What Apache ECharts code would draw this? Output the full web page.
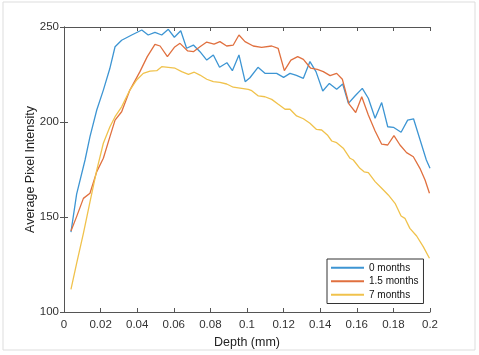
<!DOCTYPE html>
<html><head><meta charset="utf-8">
<script src="https://cdn.jsdelivr.net/npm/echarts@6/dist/echarts.min.js"></script>
<style>html,body{margin:0;padding:0;background:#fff}#c{width:479px;height:355px}</style>
</head><body><div id="c"></div>
<script>
const seriesNames = ['0 months', '1.5 months', '7 months'];
const xTicks = [0, 0.02, 0.04, 0.06, 0.08, 0.1, 0.12, 0.14, 0.16, 0.18, 0.2];
const yTicks = [100, 150, 200, 250];

const depth0 = [0.0038,0.0069,0.0115,0.0142,0.0179,0.0215,0.025,0.0279,0.0315,0.037,0.0425,0.046,0.0497,0.0534,0.057,0.0603,0.0638,0.067,0.0707,0.0743,0.078,0.0816,0.085,0.089,0.092,0.0956,0.099,0.1016,0.106,0.1098,0.1162,0.12,0.1235,0.127,0.1308,0.1344,0.1377,0.1414,0.145,0.149,0.1523,0.1554,0.159,0.163,0.1663,0.17,0.1736,0.1769,0.18,0.1842,0.1878,0.191,0.198,0.2];
const months0 = [142,162,180,192.3,206.3,216.8,228,239.6,243,245.8,248.4,245.8,247.2,245.8,248.8,244.6,248,238.8,240.5,237,232.6,235.3,228.8,231.2,227,235.3,221.2,223.3,228.8,225.6,225.6,223.5,225.6,224.5,223,231.8,226.5,216.3,220.3,217.2,220,209.8,213.7,217.7,212.5,202,210.2,197.5,197.2,194.6,201,201.7,180,175.6];

const depth15 = [0.0038,0.0069,0.0106,0.0142,0.0179,0.0215,0.0251,0.0279,0.0315,0.036,0.0415,0.0455,0.0497,0.0525,0.0565,0.0603,0.0634,0.0676,0.0707,0.0743,0.078,0.082,0.0852,0.0889,0.0925,0.0956,0.0989,0.1034,0.108,0.1135,0.117,0.1204,0.124,0.1277,0.1308,0.1348,0.1384,0.1417,0.1454,0.149,0.1521,0.1557,0.1594,0.1627,0.1663,0.17,0.1736,0.1769,0.1803,0.1836,0.1872,0.1909,0.1945,0.1973,0.1997];
const months15 = [142.6,150.2,159.8,162.5,173.9,180.9,192.3,201,205.4,216.8,226.5,234.4,240.9,240,234.4,239.3,241.4,237.4,237,239.6,242.1,241,242.3,240,240.5,245.8,242.3,240,239.3,240,238.8,227,232.6,234.4,233,228.3,227.7,226.5,224.4,225.6,222.5,209.5,205,213.3,203.7,195.3,188.3,187.9,192.8,187.9,183.9,181.7,175.6,169.5,162.5];

const depth7 = [0.0038,0.0069,0.0106,0.0142,0.0179,0.0215,0.0251,0.0279,0.0315,0.036,0.0397,0.0433,0.047,0.0507,0.0534,0.057,0.0607,0.0643,0.068,0.0712,0.0743,0.078,0.0816,0.0852,0.0889,0.0925,0.0971,0.1007,0.1026,0.1062,0.1098,0.1135,0.1171,0.1208,0.1235,0.1271,0.1308,0.1344,0.138,0.1408,0.1439,0.1463,0.149,0.1526,0.1563,0.1581,0.1617,0.164,0.1663,0.17,0.1736,0.1772,0.1809,0.1842,0.1863,0.189,0.1927,0.1963,0.1997];
const months7 = [111.9,125.6,141.4,158,174.7,188.8,197.5,202.8,208,216.8,222.1,225.6,226.8,227,229.1,228.8,228.3,226.5,225.1,226.2,224.7,222.5,221.2,220.9,220,218.3,217.7,217.2,216.5,213.7,213.3,211.9,209.3,206.7,206.7,203.2,201.7,199.3,196.1,195.8,193.2,190,189.1,186.2,180.9,180,175.6,173.8,173.3,168.6,165.1,161.6,157.2,150.5,149.3,144,140,134.4,128.3];

const colors = ['#3d95d3', '#e0703f', '#f0c24c'];
const pairs = (xs, ys) => xs.map((x, i) => [x, ys[i]]);
const allX = [depth0, depth15, depth7];
const allY = [months0, months15, months7];

const axisColor = '#555';
const font = 'Liberation Sans, Arial, sans-serif';
const chart = echarts.init(document.getElementById('c'));
chart.setOption({
  animation: false,
  backgroundColor: '#fff',
  grid: {left: 64, right: 49, top: 27, bottom: 43},
  xAxis: [{
    type: 'value', min: 0, max: 0.2, interval: 0.02,
    axisLine: {show: true, lineStyle: {color: axisColor, width: 1}},
    axisTick: {show: true, inside: true, length: 4, lineStyle: {color: axisColor}},
    splitLine: {show: false},
    axisLabel: {color: '#333', fontSize: 11.5, fontFamily: font, margin: 7,
      formatter: v => String(Math.round(v * 100) / 100)},
    name: 'Depth (mm)', nameLocation: 'middle', nameGap: 24,
    nameTextStyle: {color: '#222', fontSize: 12.5, fontFamily: font}
  }, {
    type: 'value', position: 'top', min: 0, max: 0.2, interval: 0.02,
    axisLine: {show: true, lineStyle: {color: axisColor, width: 1}},
    axisTick: {show: true, inside: true, length: 4, lineStyle: {color: axisColor}},
    axisLabel: {show: false}, splitLine: {show: false}
  }],
  yAxis: [{
    type: 'value', min: 100, max: 250, interval: 50,
    axisLine: {show: true, lineStyle: {color: axisColor, width: 1}},
    axisTick: {show: true, inside: true, length: 4, lineStyle: {color: axisColor}},
    splitLine: {show: false},
    axisLabel: {color: '#333', fontSize: 11.5, fontFamily: font, margin: 5},
    name: 'Average Pixel Intensity', nameLocation: 'middle', nameGap: 27,
    nameMoveOverlap: false,
    nameTextStyle: {color: '#222', fontSize: 12.5, fontFamily: font}
  }, {
    type: 'value', position: 'right', min: 100, max: 250, interval: 50,
    axisLine: {show: true, lineStyle: {color: axisColor, width: 1}},
    axisTick: {show: true, inside: true, length: 4, lineStyle: {color: axisColor}},
    axisLabel: {show: false}, splitLine: {show: false}
  }],
  legend: {
    left: 327, top: 259, orient: 'vertical',
    data: seriesNames,
    itemWidth: 33, itemHeight: 2, itemGap: 2,
    padding: [3, 5, 3, 4],
    borderColor: '#333', borderWidth: 1, backgroundColor: '#fff',
    textStyle: {fontSize: 10, lineHeight: 11.5, fontFamily: font, color: '#111'},
    icon: 'rect'
  },
  graphic: [{
    type: 'rect', shape: {x: 3, y: 2, width: 472, height: 348},
    style: {fill: 'none', stroke: '#ddd', lineWidth: 1}, silent: true, z: -1
  }],
  series: seriesNames.map((n, i) => ({
    name: n, type: 'line', data: pairs(allX[i], allY[i]),
    showSymbol: false, symbol: 'none',
    lineStyle: {color: colors[i], width: 1.3},
    itemStyle: {color: colors[i]}
  }))
});
</script></body></html>
